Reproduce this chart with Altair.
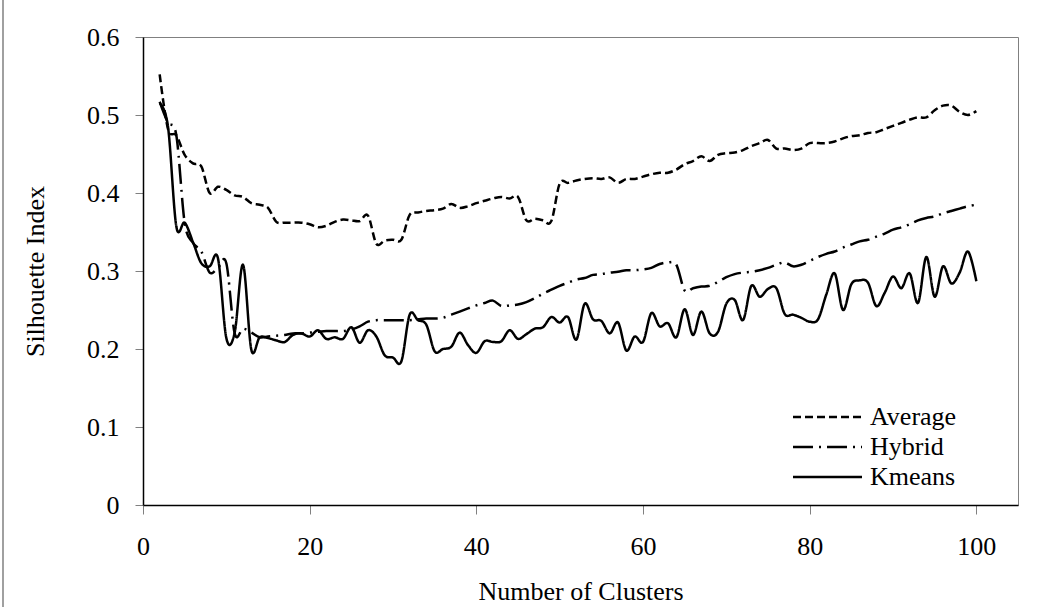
import altair as alt
import pandas as pd

clusters = list(range(2, 101))

average = [0.552, 0.482, 0.474, 0.449, 0.438, 0.434, 0.400, 0.408, 0.404, 0.397,
           0.395, 0.387, 0.385, 0.381, 0.363, 0.362, 0.362, 0.362, 0.360, 0.356,
           0.358, 0.363, 0.366, 0.365, 0.364, 0.371, 0.335, 0.339, 0.340, 0.340,
           0.372, 0.375, 0.377, 0.378, 0.380, 0.386, 0.381, 0.383, 0.387, 0.390,
           0.393, 0.395, 0.393, 0.395, 0.365, 0.367, 0.365, 0.364, 0.412, 0.413,
           0.416, 0.418, 0.419, 0.418, 0.420, 0.413, 0.418, 0.418, 0.421, 0.424,
           0.426, 0.426, 0.430, 0.437, 0.441, 0.447, 0.441, 0.449, 0.451, 0.452,
           0.455, 0.460, 0.464, 0.468, 0.457, 0.457, 0.455, 0.457, 0.464, 0.464,
           0.464, 0.466, 0.470, 0.473, 0.474, 0.477, 0.478, 0.482, 0.486, 0.490,
           0.494, 0.497, 0.497, 0.506, 0.512, 0.512, 0.504, 0.500, 0.505]

hybrid = [0.517, 0.490, 0.474, 0.362, 0.336, 0.325, 0.298, 0.304, 0.310, 0.220,
          0.226, 0.221, 0.215, 0.216, 0.217, 0.218, 0.220, 0.220, 0.221, 0.222,
          0.223, 0.223, 0.223, 0.225, 0.229, 0.235, 0.237, 0.237, 0.237, 0.237,
          0.237, 0.238, 0.239, 0.239, 0.240, 0.244, 0.248, 0.252, 0.256, 0.259,
          0.262, 0.255, 0.256, 0.257, 0.260, 0.265, 0.271, 0.276, 0.281, 0.285,
          0.289, 0.291, 0.295, 0.296, 0.298, 0.299, 0.301, 0.301, 0.302, 0.304,
          0.309, 0.311, 0.308, 0.275, 0.278, 0.280, 0.281, 0.286, 0.292, 0.296,
          0.298, 0.299, 0.301, 0.304, 0.308, 0.311, 0.306, 0.308, 0.313, 0.318,
          0.322, 0.325, 0.330, 0.334, 0.338, 0.340, 0.344, 0.348, 0.353, 0.356,
          0.360, 0.365, 0.368, 0.370, 0.374, 0.377, 0.380, 0.383, 0.385]

kmeans = [0.515, 0.485, 0.357, 0.362, 0.337, 0.310, 0.306, 0.316, 0.214, 0.221,
          0.308, 0.199, 0.215, 0.214, 0.211, 0.209, 0.218, 0.220, 0.216, 0.224,
          0.213, 0.215, 0.213, 0.228, 0.208, 0.224, 0.216, 0.192, 0.189, 0.184,
          0.244, 0.237, 0.231, 0.197, 0.200, 0.203, 0.221, 0.205, 0.195, 0.210,
          0.209, 0.210, 0.224, 0.213, 0.219, 0.226, 0.228, 0.241, 0.234, 0.241,
          0.212, 0.258, 0.238, 0.236, 0.220, 0.234, 0.198, 0.216, 0.209, 0.246,
          0.229, 0.233, 0.215, 0.251, 0.218, 0.248, 0.220, 0.222, 0.258, 0.263,
          0.237, 0.281, 0.267, 0.277, 0.278, 0.245, 0.244, 0.240, 0.235, 0.238,
          0.270, 0.297, 0.250, 0.283, 0.288, 0.285, 0.255, 0.272, 0.293, 0.278,
          0.297, 0.259, 0.318, 0.267, 0.306, 0.284, 0.298, 0.325, 0.287]

series_names = ["Average", "Hybrid", "Kmeans"]
x_ticks = [0, 20, 40, 60, 80, 100]
y_ticks = [0, 0.1, 0.2, 0.3, 0.4, 0.5, 0.6]

dash_styles = [[8, 4], [20, 6, 2, 6], [1, 0]]

rows = []
for name, vals in zip(series_names, [average, hybrid, kmeans]):
    for k, v in zip(clusters, vals):
        rows.append({"series": name, "k": k, "value": v})
df = pd.DataFrame(rows)

FONT = "Liberation Serif"
FS = 26

lines = alt.Chart(df).mark_line(
    interpolate="cardinal", tension=0, strokeWidth=2.5, color="black"
).encode(
    x=alt.X("k:Q", scale=alt.Scale(domain=[0, 105], nice=False, zero=False),
            axis=alt.Axis(values=x_ticks, format="d", title="Number of Clusters",
                          grid=False, tickSize=9, tickColor="#808080", tickWidth=1,
                          domainColor="black", domainWidth=1.5,
                          labelFont=FONT, labelFontSize=FS, labelColor="black",
                          labelPadding=19, labelFlush=False,
                          titleFont=FONT, titleFontSize=FS, titleFontWeight="normal",
                          titleColor="black", titleX=437.5, titleY=86,
                          titleBaseline="middle", titleAlign="center")),
    y=alt.Y("value:Q", scale=alt.Scale(domain=[0, 0.6], nice=False),
            axis=alt.Axis(values=y_ticks, format="~g", title="Silhouette Index",
                          grid=False, tickSize=8, tickColor="#808080", tickWidth=1,
                          domainColor="black", domainWidth=1.5,
                          labelFont=FONT, labelFontSize=FS, labelColor="black",
                          labelPadding=16, labelFlush=False,
                          titleFont=FONT, titleFontSize=FS, titleFontWeight="normal",
                          titleColor="black", titleX=-108, titleY=234,
                          titleAngle=-90, titleBaseline="middle", titleAlign="center")),
    strokeDash=alt.StrokeDash("series:N",
                              scale=alt.Scale(domain=series_names, range=dash_styles),
                              legend=None),
    detail="series:N",
)

layers = [lines]
legend_rows_y = [380, 410, 440]
for name, dash, ry in zip(series_names, dash_styles, legend_rows_y):
    ldf = pd.DataFrame({"series": [name]})
    rule = alt.Chart(ldf).mark_rule(color="black", strokeWidth=2.5).encode(
        x=alt.value(650), x2=alt.value(719), y=alt.value(ry),
        strokeDash=alt.value(dash),
    )
    txt = alt.Chart(ldf).mark_text(
        align="left", baseline="middle", font=FONT, fontSize=FS, color="black"
    ).encode(x=alt.value(727), y=alt.value(ry), text="series:N")
    layers += [rule, txt]

# outer chart-area border on the left edge
border = alt.Chart(pd.DataFrame({"b": [0]})).mark_rule(
    color="#808080", strokeWidth=1.5, clip=False
).encode(x=alt.value(-140), y=alt.value(-37), y2=alt.value(570))
layers.append(border)

chart = alt.layer(*layers).properties(
    width=875, height=468,
    autosize="none",
    padding={"left": 143, "top": 37, "right": 36, "bottom": 102},
    background="white",
).configure_view(stroke="#808080", strokeWidth=1)

chart.save("out.html", embed_options={"renderer": "svg", "actions": False})
